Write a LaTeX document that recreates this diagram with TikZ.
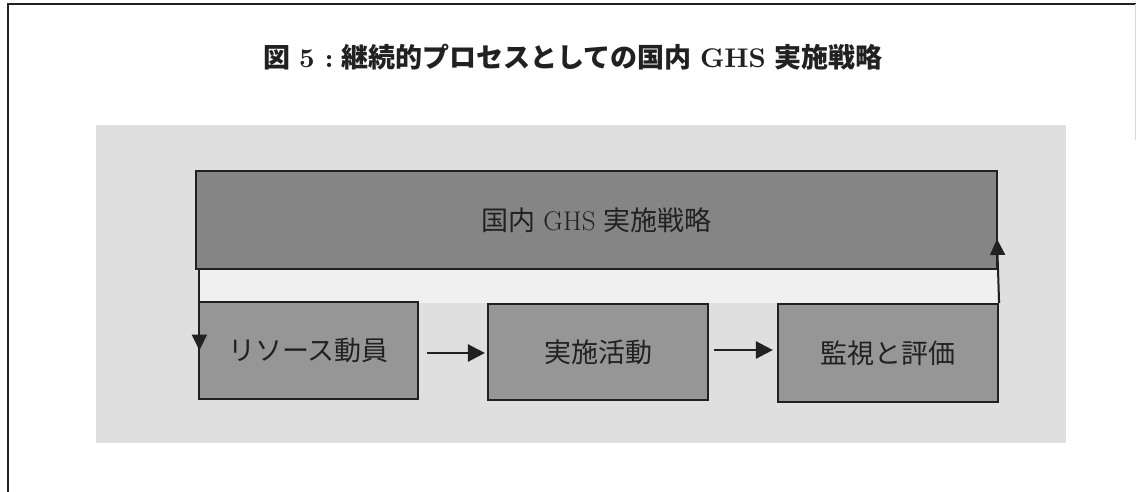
\documentclass[tikz,border=0pt]{standalone}
\usepackage{fontspec}
\newfontfamily\cjk{Noto Sans CJK JP}
\newfontfamily\lmbx{lmroman10-bold}[Extension=.otf]
\usetikzlibrary{arrows.meta}
\definecolor{bgpanel}{gray}{0.875}
\definecolor{bigfill}{gray}{0.52}
\definecolor{smallfill}{gray}{0.59}
\definecolor{stripfill}{gray}{0.94}
\definecolor{ink}{gray}{0.13}
\tikzset{
  boxstyle/.style={draw=ink, line width=2.2pt, inner sep=0pt, text=ink, font=\fontsize{27}{31}\selectfont},
  flowarrow/.style={draw=ink, line width=2.6pt, -{Triangle[length=17pt,width=17pt]}},
  looparrow/.style={draw=ink, line width=2pt, -{Triangle[length=16pt,width=15pt]}},
  titlestyle/.style={text=ink, font=\fontsize{27}{31}\selectfont}
}
\begin{document}
\begin{tikzpicture}[x=1pt,y=-1pt]
\useasboundingbox (0,0) rectangle (1136,492);
\fill[white] (0,0) rectangle (1136,492);
% outer frame
\draw[ink, line width=2pt] (8,492) -- (8,4) -- (1136,4);
\draw[gray!30, line width=0.8pt] (1135,4) -- (1135,140);
% title
\node[titlestyle] (title) at (573,57) {{\cjk\bfseries 図}~{\lmbx 5~:}~{\cjk\bfseries 継続的プロセスとしての国内}~{\lmbx GHS}~{\cjk\bfseries 実施戦略}};
% panel
\fill[bgpanel] (96,125) rectangle (1066,443);
\fill[stripfill] (199,269) rectangle (997,303);
% boxes
\node[boxstyle, fill=bigfill, minimum width=801pt, minimum height=98pt] (big) at (596.5,220) {{\cjk 国内}~GHS~{\cjk 実施戦略}};
\node[boxstyle, fill=smallfill, minimum width=219pt, minimum height=97pt] (b1) at (308.5,350.5) {\cjk リソース動員};
\node[boxstyle, fill=smallfill, minimum width=220pt, minimum height=96pt] (b2) at (598,352) {\cjk 実施活動};
\node[boxstyle, fill=smallfill, minimum width=220pt, minimum height=98pt] (b3) at (888,353) {\cjk 監視と評価};
% flow arrows
\draw[flowarrow] ([xshift=8pt]b1.east |- 0,353) -- ([xshift=-2pt]b2.west |- 0,353);
\draw[flowarrow] ([xshift=5pt]b2.east |- 0,350) -- ([xshift=-4pt]b3.west |- 0,350);
% loop connectors
\coordinate (tipR) at (997,239);
\draw[looparrow] ([xshift=1.5pt]b1.west |- big.south) -- ([xshift=1.5pt]b1.west);
\draw[looparrow] (b3.north east) -- (tipR);
\end{tikzpicture}
\end{document}
